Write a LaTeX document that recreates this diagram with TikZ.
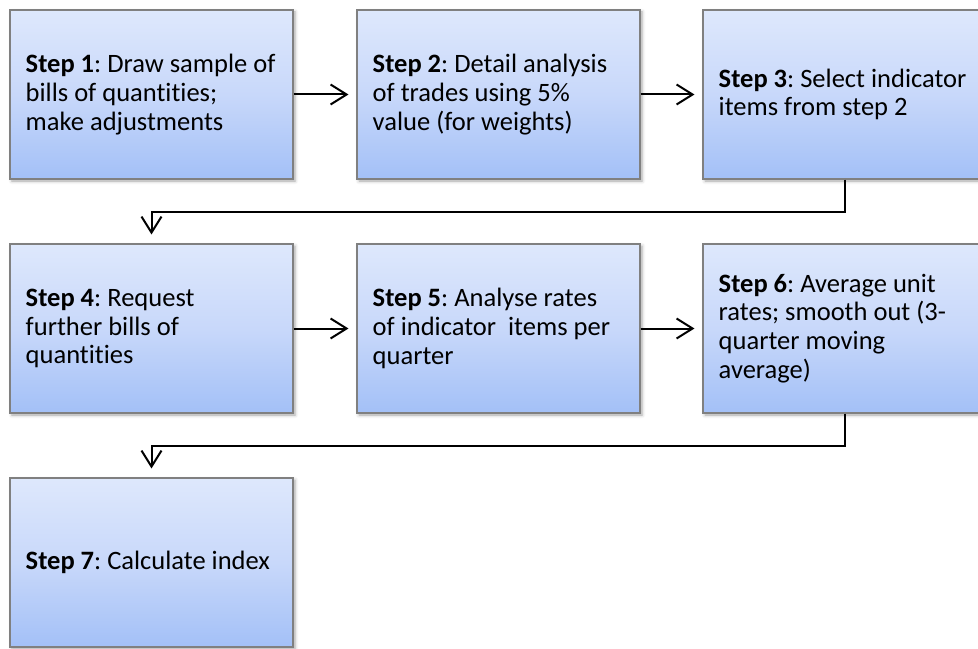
\documentclass[tikz,border=0pt]{standalone}
\usepackage{fontspec}
\setmainfont{Carlito}[Ligatures={NoCommon}]
\frenchspacing
\usetikzlibrary{arrows.meta,shadows.blur}

\definecolor{boxtop}{RGB}{222,232,252}
\definecolor{boxmid}{RGB}{200,216,250}
\definecolor{boxbot}{RGB}{163,192,247}
\definecolor{boxedge}{RGB}{128,128,128}

\begin{document}
\begin{tikzpicture}[x=0.75pt,y=-0.75pt,
  stepbox/.style={rectangle, draw=boxedge, line width=0.8pt,
    minimum width=212.25pt, minimum height=126.75pt, inner sep=0pt,
    top color=boxtop, bottom color=boxbot, middle color=boxmid,
    blur shadow={shadow xshift=1.5pt, shadow yshift=-1.5pt,
      shadow blur radius=2.5pt, shadow opacity=35}},
  steptext/.style={anchor=west, align=left, inner sep=0pt,
    font=\fontsize{19.9}{21.6}\selectfont},
  flow/.style={line width=1.5pt, -{Straight Barb[length=12pt,width=15pt]}}]
\useasboundingbox (0,0) rectangle (978,649);
\clip (0,0) rectangle (978,649);

% row 1
\node[stepbox] (s1) at (151.5,94.5) {};
\node[stepbox] (s2) at (498.5,94.5) {};
\node[stepbox] (s3) at (844.5,94.5) {};
% row 2
\node[stepbox] (s4) at (151.5,328.5) {};
\node[stepbox] (s5) at (498.5,328.5) {};
\node[stepbox] (s6) at (844.5,328.5) {};
% row 3
\node[stepbox] (s7) at (151.5,562.5) {};

% box texts
\node[steptext] (t1) at ([xshift=12pt]s1.west)
  {\textbf{Step 1}: Draw sample of\\bills of quantities;\\make adjustments};
\node[steptext] (t2) at ([xshift=12pt]s2.west)
  {\textbf{Step 2}: Detail analysis\\of trades using 5\%\\value (for weights)};
\node[steptext] (t3) at ([xshift=12pt]s3.west)
  {\textbf{Step 3}: Select indicator\\items from step 2};
\node[steptext] (t4) at ([xshift=12pt]s4.west)
  {\textbf{Step 4}: Request\\further bills of\\quantities};
\node[steptext] (t5) at ([xshift=12pt]s5.west)
  {\textbf{Step 5}: Analyse rates\\of indicator\ \ items per\\quarter};
\node[steptext] (t6) at ([xshift=12pt]s6.west)
  {\textbf{Step 6}: Average unit\\rates; smooth out (3-\\quarter moving\\average)};
\node[steptext] (t7) at ([xshift=12pt]s7.west)
  {\textbf{Step 7}: Calculate index};

% arrows within a row
\draw[flow, shorten >=6pt] (s1.east) -- (s2.west);
\draw[flow, shorten >=6pt] (s2.east) -- (s3.west);
\draw[flow, shorten >=6pt] (s4.east) -- (s5.west);
\draw[flow, shorten >=6pt] (s5.east) -- (s6.west);

% return connectors to the next row
\coordinate (r1) at (844.5,212);
\coordinate (r2) at (151.5,212);
\draw[flow, shorten >=6.75pt] (s3.south) -- (r1) -- (r2) -- (s4.north);
\coordinate (r3) at (844.5,446);
\coordinate (r4) at (151.5,446);
\draw[flow, shorten >=6.75pt] (s6.south) -- (r3) -- (r4) -- (s7.north);
\end{tikzpicture}
\end{document}
